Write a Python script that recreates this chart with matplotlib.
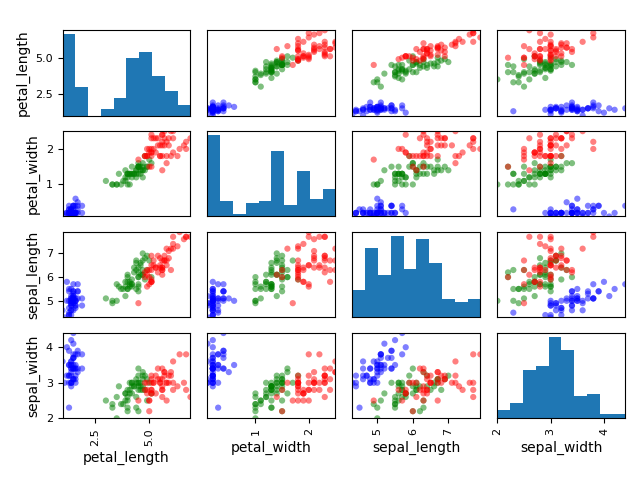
"""Iris scatter matrix: pairwise scatter by species with histograms on the diagonal."""

import matplotlib
import matplotlib.pyplot as plt
import numpy as np
from matplotlib.ticker import MaxNLocator

matplotlib.use("Agg")

COLUMNS = ["petal_length", "petal_width", "sepal_length", "sepal_width"]
# tick density per variable, so the tick values come out as in the reference
NBINS = {"petal_length": 2, "petal_width": 3, "sepal_length": 3, "sepal_width": 3}

# iris rows, by species (50 each)
sepal_length = [
    5.1, 4.9, 4.7, 4.6, 5.0, 5.4, 4.6, 5.0, 4.4, 4.9, 5.4, 4.8, 4.8, 4.3, 5.8, 5.7, 5.4, 5.1, 5.7, 5.1,
    5.4, 5.1, 4.6, 5.1, 4.8, 5.0, 5.0, 5.2, 5.2, 4.7, 4.8, 5.4, 5.2, 5.5, 4.9, 5.0, 5.5, 4.9, 4.4, 5.1,
    5.0, 4.5, 4.4, 5.0, 5.1, 4.8, 5.1, 4.6, 5.3, 5.0,
    7.0, 6.4, 6.9, 5.5, 6.5, 5.7, 6.3, 4.9, 6.6, 5.2, 5.0, 5.9, 6.0, 6.1, 5.6, 6.7, 5.6, 5.8, 6.2, 5.6,
    5.9, 6.1, 6.3, 6.1, 6.4, 6.6, 6.8, 6.7, 6.0, 5.7, 5.5, 5.5, 5.8, 6.0, 5.4, 6.0, 6.7, 6.3, 5.6, 5.5,
    5.5, 6.1, 5.8, 5.0, 5.6, 5.7, 5.7, 6.2, 5.1, 5.7,
    6.3, 5.8, 7.1, 6.3, 6.5, 7.6, 4.9, 7.3, 6.7, 7.2, 6.5, 6.4, 6.8, 5.7, 5.8, 6.4, 6.5, 7.7, 7.7, 6.0,
    6.9, 5.6, 7.7, 6.3, 6.7, 7.2, 6.2, 6.1, 6.4, 7.2, 7.4, 7.9, 6.4, 6.3, 6.1, 7.7, 6.3, 6.4, 6.0, 6.9,
    6.7, 6.9, 5.8, 6.8, 6.7, 6.7, 6.3, 6.5, 6.2, 5.9,
]
sepal_width = [
    3.5, 3.0, 3.2, 3.1, 3.6, 3.9, 3.4, 3.4, 2.9, 3.1, 3.7, 3.4, 3.0, 3.0, 4.0, 4.4, 3.9, 3.5, 3.8, 3.8,
    3.4, 3.7, 3.6, 3.3, 3.4, 3.0, 3.4, 3.5, 3.4, 3.2, 3.1, 3.4, 4.1, 4.2, 3.1, 3.2, 3.5, 3.6, 3.0, 3.4,
    3.5, 2.3, 3.2, 3.5, 3.8, 3.0, 3.8, 3.2, 3.7, 3.3,
    3.2, 3.2, 3.1, 2.3, 2.8, 2.8, 3.3, 2.4, 2.9, 2.7, 2.0, 3.0, 2.2, 2.9, 2.9, 3.1, 3.0, 2.7, 2.2, 2.5,
    3.2, 2.8, 2.5, 2.8, 2.9, 3.0, 2.8, 3.0, 2.9, 2.6, 2.4, 2.4, 2.7, 2.7, 3.0, 3.4, 3.1, 2.3, 3.0, 2.5,
    2.6, 3.0, 2.6, 2.3, 2.7, 3.0, 2.9, 2.9, 2.5, 2.8,
    3.3, 2.7, 3.0, 2.9, 3.0, 3.0, 2.5, 2.9, 2.5, 3.6, 3.2, 2.7, 3.0, 2.5, 2.8, 3.2, 3.0, 3.8, 2.6, 2.2,
    3.2, 2.8, 2.8, 2.7, 3.3, 3.2, 2.8, 3.0, 2.8, 3.0, 2.8, 3.8, 2.8, 2.8, 2.6, 3.0, 3.4, 3.1, 3.0, 3.1,
    3.1, 3.1, 2.7, 3.2, 3.3, 3.0, 2.5, 3.0, 3.4, 3.0,
]
petal_length = [
    1.4, 1.4, 1.3, 1.5, 1.4, 1.7, 1.4, 1.5, 1.4, 1.5, 1.5, 1.6, 1.4, 1.1, 1.2, 1.5, 1.3, 1.4, 1.7, 1.5,
    1.7, 1.5, 1.0, 1.7, 1.9, 1.6, 1.6, 1.5, 1.4, 1.6, 1.6, 1.5, 1.5, 1.4, 1.5, 1.2, 1.3, 1.4, 1.3, 1.5,
    1.3, 1.3, 1.3, 1.6, 1.9, 1.4, 1.6, 1.4, 1.5, 1.4,
    4.7, 4.5, 4.9, 4.0, 4.6, 4.5, 4.7, 3.3, 4.6, 3.9, 3.5, 4.2, 4.0, 4.7, 3.6, 4.4, 4.5, 4.1, 4.5, 3.9,
    4.8, 4.0, 4.9, 4.7, 4.3, 4.4, 4.8, 5.0, 4.5, 3.5, 3.8, 3.7, 3.9, 5.1, 4.5, 4.5, 4.7, 4.4, 4.1, 4.0,
    4.4, 4.6, 4.0, 3.3, 4.2, 4.2, 4.2, 4.3, 3.0, 4.1,
    6.0, 5.1, 5.9, 5.6, 5.8, 6.6, 4.5, 6.3, 5.8, 6.1, 5.1, 5.3, 5.5, 5.0, 5.1, 5.3, 5.5, 6.7, 6.9, 5.0,
    5.7, 4.9, 6.7, 4.9, 5.7, 6.0, 4.8, 4.9, 5.6, 5.8, 6.1, 6.4, 5.6, 5.1, 5.6, 6.1, 5.6, 5.5, 4.8, 5.4,
    5.6, 5.1, 5.1, 5.9, 5.7, 5.2, 5.0, 5.2, 5.4, 5.1,
]
petal_width = [
    0.2, 0.2, 0.2, 0.2, 0.2, 0.4, 0.3, 0.2, 0.2, 0.1, 0.2, 0.2, 0.1, 0.1, 0.2, 0.4, 0.4, 0.3, 0.3, 0.3,
    0.2, 0.4, 0.2, 0.5, 0.2, 0.2, 0.4, 0.2, 0.2, 0.2, 0.2, 0.4, 0.1, 0.2, 0.2, 0.2, 0.2, 0.1, 0.2, 0.2,
    0.3, 0.3, 0.2, 0.6, 0.4, 0.3, 0.2, 0.2, 0.2, 0.2,
    1.4, 1.5, 1.5, 1.3, 1.5, 1.3, 1.6, 1.0, 1.3, 1.4, 1.0, 1.5, 1.0, 1.4, 1.3, 1.4, 1.5, 1.0, 1.5, 1.1,
    1.8, 1.3, 1.5, 1.2, 1.3, 1.4, 1.4, 1.7, 1.5, 1.0, 1.1, 1.0, 1.2, 1.6, 1.5, 1.6, 1.5, 1.3, 1.3, 1.3,
    1.2, 1.4, 1.2, 1.0, 1.3, 1.2, 1.3, 1.3, 1.1, 1.3,
    2.5, 1.9, 2.1, 1.8, 2.2, 2.1, 1.7, 1.8, 1.8, 2.5, 2.0, 1.9, 2.1, 2.0, 2.4, 2.3, 1.8, 2.2, 2.3, 1.5,
    2.3, 2.0, 2.0, 1.8, 2.1, 1.8, 1.8, 1.8, 2.1, 1.6, 1.9, 2.0, 2.2, 1.5, 1.4, 2.3, 2.4, 1.8, 1.8, 2.1,
    2.4, 2.3, 1.9, 2.3, 2.5, 2.3, 1.9, 2.0, 2.3, 1.8,
]
species_colors = ["blue"] * 50 + ["green"] * 50 + ["red"] * 50

data = {
    "petal_length": np.array(petal_length),
    "petal_width": np.array(petal_width),
    "sepal_length": np.array(sepal_length),
    "sepal_width": np.array(sepal_width),
}


def main():
    n = len(COLUMNS)
    fig, axes = plt.subplots(n, n, figsize=(6.4, 4.8), dpi=100)
    fig.subplots_adjust(left=0.0977, right=0.977, bottom=0.1285, top=0.937,
                        wspace=0.133, hspace=0.183)
    bounds = [(data[c].min(), data[c].max()) for c in COLUMNS]
    steps = [1, 2, 2.5, 5, 10]

    for i, a in enumerate(COLUMNS):
        for j, b in enumerate(COLUMNS):
            ax = axes[i, j]
            if i == j:
                ax.hist(data[a], bins=10, color="tab:blue")
                ax.set_xlim(bounds[i])
            else:
                ax.scatter(data[b], data[a], c=species_colors, marker="o",
                           s=20, alpha=0.5, edgecolors="none")
                ax.set_xlim(bounds[j])
                ax.set_ylim(bounds[i])
            ax.set_xlabel(b)
            ax.set_ylabel(a)
            ax.xaxis.set_major_locator(MaxNLocator(nbins=NBINS[b], steps=steps))
            ax.yaxis.set_major_locator(MaxNLocator(nbins=NBINS[a], steps=steps))
            ax.tick_params(axis="x", labelsize=8, labelrotation=90)
            ax.tick_params(axis="y", labelsize=8, labelrotation=0)
            if j != 0:
                ax.yaxis.set_visible(False)
            if i != n - 1:
                ax.xaxis.set_visible(False)

    # relabel the top-left histogram's y axis with petal_length values
    lim1 = bounds[0]
    locs = axes[0][1].yaxis.get_majorticklocs()
    locs = locs[(lim1[0] <= locs) & (locs <= lim1[1])]
    adj = (locs - lim1[0]) / (lim1[1] - lim1[0])
    lim0 = axes[0][0].get_ylim()
    adj = adj * (lim0[1] - lim0[0]) + lim0[0]
    axes[0][0].yaxis.set_ticks(adj)
    axes[0][0].yaxis.set_ticklabels([f"{v}" for v in locs])

    fig.savefig("out.png", dpi=100)
    plt.close(fig)


if __name__ == "__main__":
    main()
